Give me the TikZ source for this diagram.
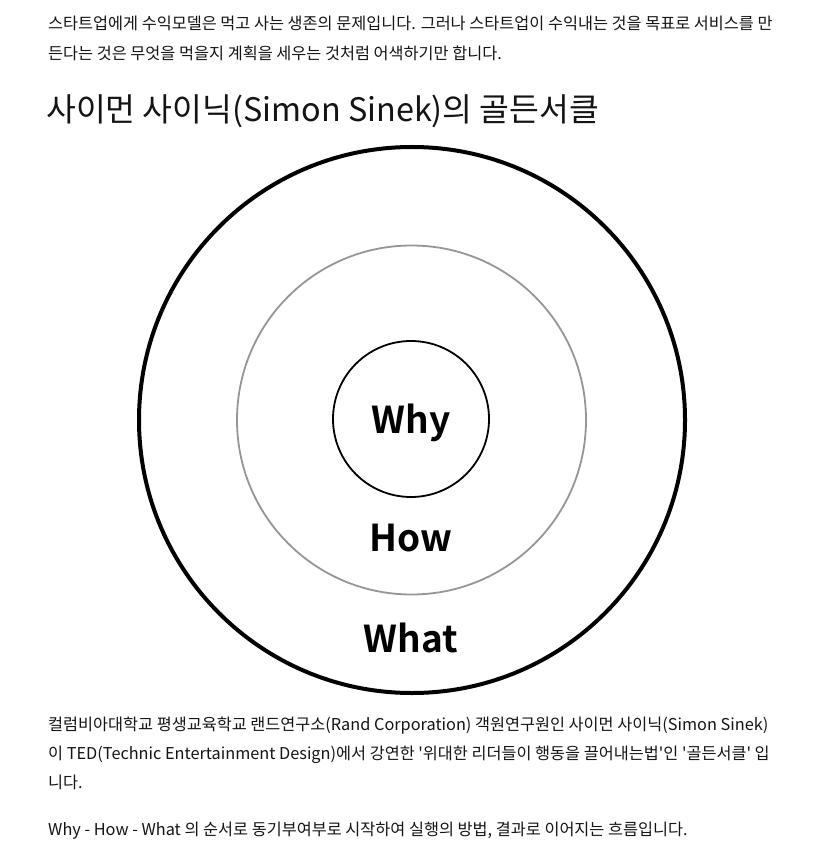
\documentclass[tikz,border=0pt]{standalone}
\usepackage{fontspec}
\setmainfont{Noto Sans CJK KR}
\newfontfamily\boldkr{Noto Sans CJK KR Bold}
\usetikzlibrary{positioning}
\definecolor{ringgray}{RGB}{150,150,150}
\definecolor{textcolor}{RGB}{20,20,20}

\begin{document}
\begin{tikzpicture}[
    x=1pt, y=-1pt,
    ring/.style={circle, draw, inner sep=0pt},
    outerring/.style={ring, draw=black, line width=4pt},
    midring/.style={ring, draw=ringgray, line width=1.8pt},
    innerring/.style={ring, draw=black, line width=1.8pt},
    circlabel/.style={font=\boldkr\fontsize{37}{40}\selectfont},
    bodyline/.style={anchor=base west, inner sep=0pt, text=textcolor, font=\fontsize{16.3}{18}\selectfont},
    titleline/.style={anchor=base west, inner sep=0pt, text=textcolor, font=\fontsize{32.4}{36}\selectfont}
]
\useasboundingbox (0,0) rectangle (814,858);

% Intro text
\node[bodyline] (intro1) at (48,30) {스타트업에게 수익모델은 먹고 사는 생존의 문제입니다. 그러나 스타트업이 수익내는 것을 목표로 서비스를 만};
\node[bodyline] (intro2) at (48,60) {든다는 것은 무엇을 먹을지 계획을 세우는 것처럼 어색하기만 합니다.};

% Title
\node[titleline] (title) at (46,122) {사이먼 사이닉(Simon Sinek)의 골든서클};

% Golden circle
\node[outerring, minimum size=546pt] (what) at (412,420) {};
\node[midring, minimum size=349pt] (how) at (411.5,420) {};
\node[innerring, minimum size=156pt] (why) at (411,419) {};

\node[circlabel] (whylabel) at (411,423) {Why};
\node[circlabel] (howlabel) at (411,538) {How};
\node[circlabel] (whatlabel) at (411,638) {What};

% Closing text
\node[bodyline] (body1) at (48,730) {컬럼비아대학교 평생교육학교 랜드연구소(Rand Corporation) 객원연구원인 사이먼 사이닉(Simon Sinek)};
\node[bodyline] (body2) at (48,759) {이 TED(Technic Entertainment Design)에서 강연한 \textquotesingle 위대한 리더들이 행동을 끌어내는법\textquotesingle 인 \textquotesingle 골든서클\textquotesingle\ 입};
\node[bodyline] (body3) at (48,788) {니다.};
\node[bodyline] (body4) at (48,835) {Why - How - What 의 순서로 동기부여부로 시작하여 실행의 방법, 결과로 이어지는 흐름입니다.};

\end{tikzpicture}
\end{document}
